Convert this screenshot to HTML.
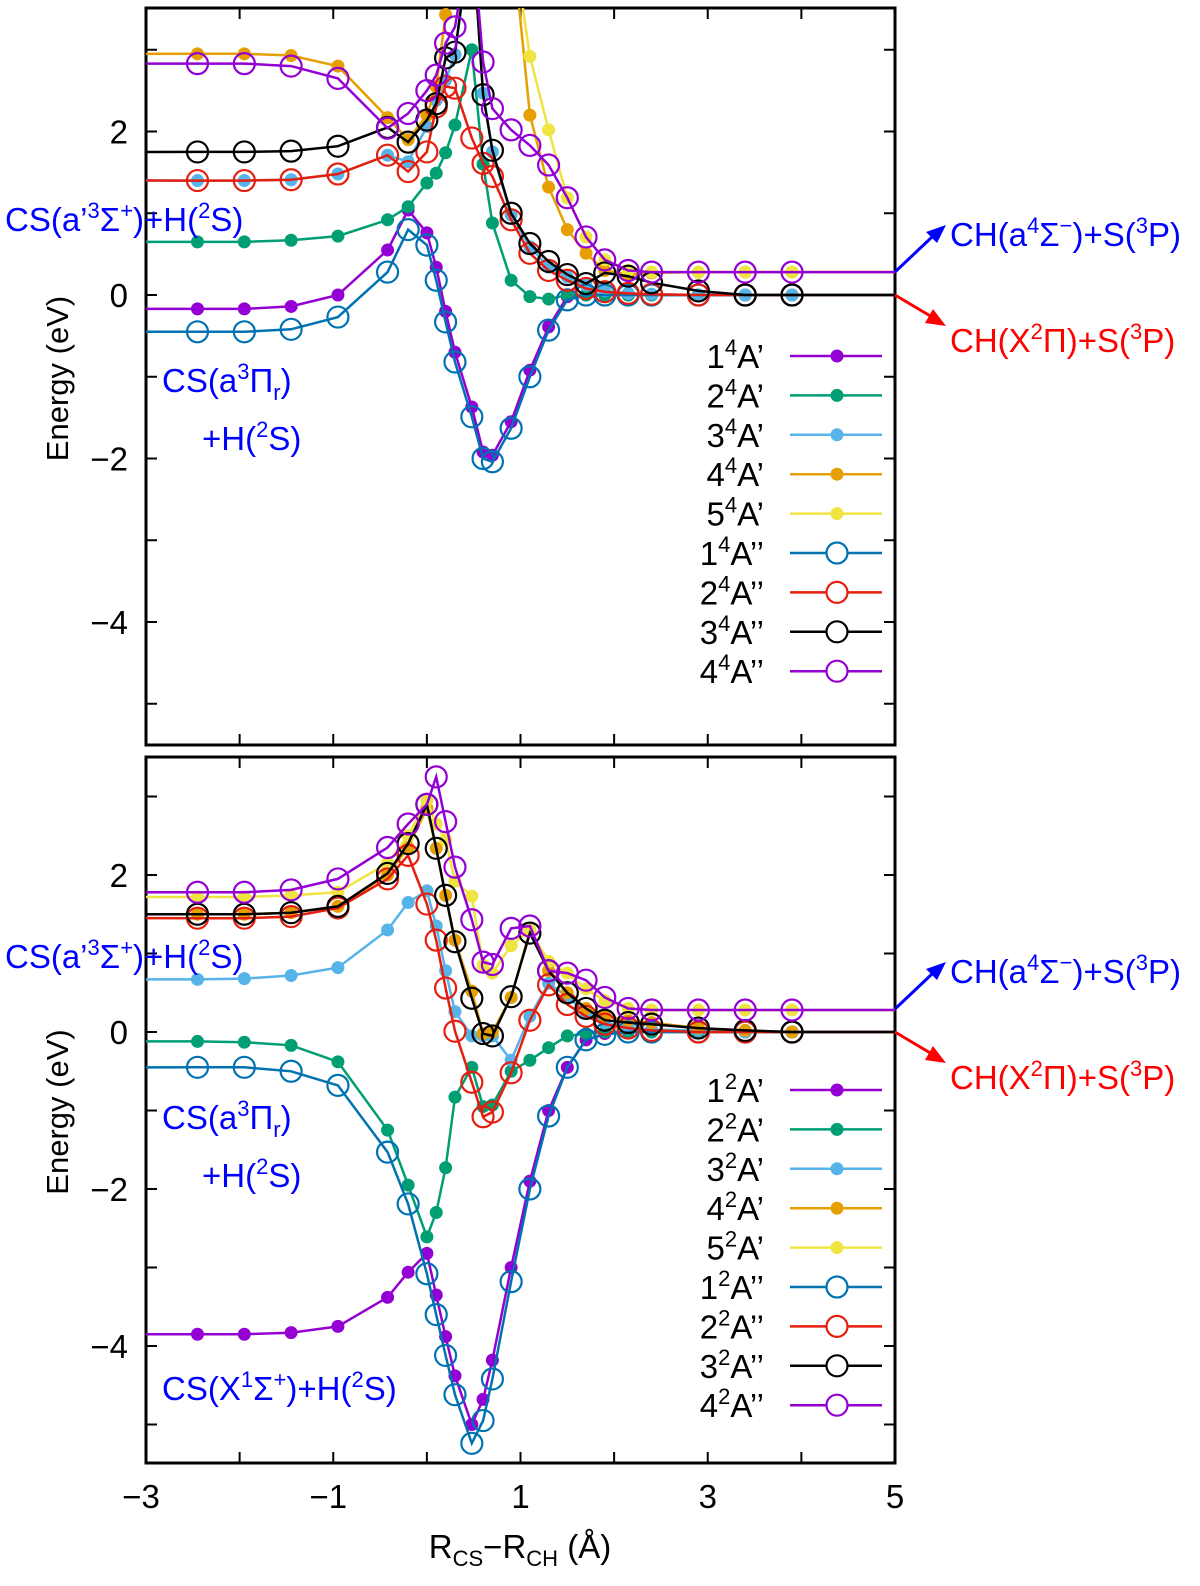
<!DOCTYPE html>
<html><head><meta charset="utf-8"><style>
body{margin:0;background:#fff;}
svg text{font-family:"Liberation Sans",sans-serif;}
</style></head><body>
<svg id="chart" width="1200" height="1581" viewBox="0 0 1200 1581" xmlns="http://www.w3.org/2000/svg">
<defs>
<clipPath id="clipTop"><rect x="146" y="8" width="749" height="737"/></clipPath>
<clipPath id="clipBot"><rect x="146" y="757" width="749" height="706"/></clipPath>
</defs>
<g id="top"></g>
<g id="bot"></g>
<g id="ann"></g>
</svg>
<script>
const xs = [-2.45,-1.95,-1.45,-0.95,-0.42,-0.2,0,0.1,0.2,0.3,0.48,0.6,0.7,0.9,1.1,1.3,1.5,1.7,1.9,2.15,2.4,2.9,3.4,3.9];
const xTicks = [-3,-1,1,3,5];
const yTicks = [2,0,-2,-4];
const colors = ["#9400d3","#009e73","#56b4e9","#e69f00","#f0e442","#0072b2","#e51e10","#000000","#9400d3"];
const filled = [true,true,true,true,true,false,false,false,false];
const topLabels = ["1","2","3","4","5","1","2","3","4"];
const topSuffix = ["A’","A’","A’","A’","A’","A’’","A’’","A’’","A’’"];
// top panel (quartets)
const t1 = [-0.17,-0.17,-0.14,0.0,0.55,1.04,0.76,0.34,-0.2,-0.7,-1.37,-1.92,-1.96,-1.55,-0.92,-0.39,-0.02,0,0,0,0,0,0,0];
const t2 = [0.65,0.65,0.67,0.72,0.92,1.08,1.37,1.49,1.74,2.08,3.0,1.6,0.88,0.18,-0.02,-0.05,0,0,0,0,0,0,0,0];
const t3 = [1.4,1.4,1.41,1.48,1.71,1.63,2.06,2.38,2.63,2.94,4.5,2.47,1.75,0.98,0.59,0.34,0.22,0.12,0.05,0.02,0.01,0,0,0];
const t4 = [2.95,2.95,2.93,2.8,2.17,1.9,2.2,2.55,3.43,4.5,4.5,4.5,4.5,4.5,2.2,1.32,0.8,0.51,0.3,0.25,0.27,0.28,0.28,0.28];
const t5 = [4.5,4.5,4.5,4.5,4.5,4.5,4.5,4.5,4.5,4.5,4.5,4.5,4.5,4.5,2.92,2.02,1.19,0.71,0.43,0.3,0.28,0.28,0.28,0.28];
const t6 = [-0.45,-0.45,-0.42,-0.27,0.28,0.8,0.61,0.18,-0.33,-0.82,-1.49,-2.0,-2.04,-1.63,-1.0,-0.43,-0.06,0,0,0,0,0,0,0];
const t7 = [1.4,1.4,1.41,1.48,1.71,1.51,1.75,2.3,2.55,2.53,1.92,1.61,1.45,0.92,0.51,0.3,0.18,0.08,0.04,0.02,0.01,0,0,0];
const t8 = [1.75,1.75,1.76,1.82,2.05,1.87,2.14,2.34,2.9,2.97,4.5,2.45,1.77,1.0,0.63,0.41,0.25,0.14,0.27,0.23,0.15,0.05,0.0,0.0];
const t9 = [2.83,2.83,2.8,2.65,2.04,2.22,2.5,2.69,3.08,3.28,4.5,2.85,2.28,2.02,1.83,1.59,1.19,0.71,0.43,0.3,0.28,0.28,0.28,0.28];
// bottom panel (doublets)
const b1 = [-3.85,-3.85,-3.83,-3.75,-3.38,-3.06,-2.82,-3.35,-3.88,-4.38,-5.0,-4.68,-4.18,-3.0,-1.9,-1.0,-0.45,-0.1,-0.02,0,0,0,0,0];
const b2 = [-0.12,-0.13,-0.17,-0.38,-1.25,-1.95,-2.61,-2.3,-1.73,-0.83,-0.45,-0.95,-0.93,-0.5,-0.36,-0.2,-0.05,-0.02,0,0,0,0,0,0];
const b3 = [0.67,0.68,0.72,0.82,1.3,1.65,1.8,1.35,0.78,0.26,-0.05,-0.05,-0.05,-0.36,0.2,0.62,0.45,0.25,0.12,0.05,0.03,0.02,0,0];
const b4 = [1.5,1.5,1.52,1.6,2.0,2.35,2.85,2.34,1.74,1.17,0.52,-0.02,0,0.44,1.29,0.78,0.5,0.3,0.2,0.15,0.12,0.05,0.02,0];
const b5 = [1.72,1.72,1.74,1.78,2.15,2.5,2.95,2.65,2.45,1.92,1.73,0.85,0.75,1.1,1.3,0.9,0.75,0.55,0.4,0.3,0.28,0.28,0.28,0.28];
const b6 = [-0.45,-0.45,-0.5,-0.68,-1.53,-2.19,-3.08,-3.6,-4.12,-4.62,-5.24,-4.95,-4.42,-3.18,-2.0,-1.07,-0.45,-0.1,-0.03,0,0,0,0,0];
const b7 = [1.45,1.45,1.47,1.58,1.95,2.25,1.63,1.17,0.56,0.01,-0.64,-1.08,-1.02,-0.52,0.15,0.6,0.35,0.2,0.1,0.05,0.02,0,0,0];
const b8 = [1.5,1.5,1.52,1.6,2.02,2.4,2.9,2.34,1.74,1.15,0.43,-0.02,-0.05,0.45,1.26,0.78,0.5,0.3,0.15,0.12,0.1,0.05,0.02,0];
const b9 = [1.78,1.78,1.81,1.95,2.35,2.65,2.9,3.25,2.68,2.1,1.43,0.89,0.86,1.32,1.35,0.78,0.75,0.66,0.44,0.3,0.28,0.28,0.28,0.28];

const NS="http://www.w3.org/2000/svg";
function mk(tag, attrs, parent){const e=document.createElementNS(NS,tag);for(const k in attrs)e.setAttribute(k,attrs[k]);parent.appendChild(e);return e;}
const X0=146,X1=895;
const FS=33, SS=22;
function xScale(v){return X0+(v+3)*(X1-X0)/8;}
const sp=(s)=>'<tspan dy="-13" font-size="'+SS+'">'+s+'</tspan><tspan dy="13">';

function panel(g, top, bot, zeroY, unit, clip, series, sup, legendY0){
  const yScale=v=>zeroY-v*unit;
  const fr=mk('rect',{x:X0,y:top,width:X1-X0,height:bot-top,fill:'none',stroke:'#000','stroke-width':3},g);
  
  
  for(let v=-5;v<=3;v++){
    const y=yScale(v); if(y<top+2||y>bot-2) continue;
    mk('line',{x1:X0,x2:X0+11,y1:y,y2:y,stroke:'#000','stroke-width':2},g);
    mk('line',{x1:X1-11,x2:X1,y1:y,y2:y,stroke:'#000','stroke-width':2},g);
  }
  yTicks.forEach(v=>{
    const t=mk('text',{x:128,y:yScale(v)+12,'text-anchor':'end','font-size':FS},g);
    t.textContent=(v<0?'\u2212':'')+Math.abs(v);
    
    
  });
  for(let v=-3;v<=5;v++){
    const x=xScale(v);
    mk('line',{x1:x,x2:x,y1:top,y2:top+11,stroke:'#000','stroke-width':2},g);
    mk('line',{x1:x,x2:x,y1:bot-11,y2:bot,stroke:'#000','stroke-width':2},g);
  }
  const cg=mk('g',{'clip-path':'url(#'+clip+')'},g);
  series.forEach((s,i)=>{
    const sg=mk('g',{},cg);
    
    
    let d='M'+xScale(-3)+','+yScale(s[0]);
    s.forEach((v,j)=>{d+=' L'+xScale(xs[j]).toFixed(1)+','+yScale(v).toFixed(1);});
    d+=' L'+xScale(5)+','+yScale(s[s.length-1]);
    mk('path',{d:d,fill:'none',stroke:colors[i],'stroke-width':2.5},sg);
    s.forEach((v,j)=>{
      const c=filled[i]?mk('circle',{cx:xScale(xs[j]),cy:yScale(v),r:6.5,fill:colors[i]},sg)
        :mk('circle',{cx:xScale(xs[j]),cy:yScale(v),r:10.5,fill:'none',stroke:colors[i],'stroke-width':2.2},sg);
      
      
    });
  });
  series.forEach((s,i)=>{
    const y=legendY0+i*39.4;
    const lg=mk('g',{},g);
    
    
    const t=mk('text',{x:764,y:y+12,'text-anchor':'end','font-size':FS},lg);
    t.innerHTML=topLabels[i]+sp(sup)+topSuffix[i]+'</tspan>';
    mk('line',{x1:790,x2:882,y1:y,y2:y,stroke:colors[i],'stroke-width':2.5},lg);
    if(filled[i]) mk('circle',{cx:837,cy:y,r:6.5,fill:colors[i]},lg);
    else mk('circle',{cx:837,cy:y,r:10.5,fill:'#fff',stroke:colors[i],'stroke-width':2.2},lg);
  });
  const yl=mk('text',{x:0,y:0,'text-anchor':'middle','font-size':FS-2,transform:'translate(68,'+((top+bot)/2+2)+') rotate(-90)'},g);
  yl.textContent='Energy (eV)';
  
  
}
panel(document.getElementById('top'),8,745,295,81.75,'clipTop',[t1,t2,t3,t4,t5,t6,t7,t8,t9],'4',356);
panel(document.getElementById('bot'),757,1463,1032,78.5,'clipBot',[b1,b2,b3,b4,b5,b6,b7,b8,b9],'2',1090);

const ann=document.getElementById('ann');
xTicks.forEach(v=>{
  const t=mk('text',{x:xScale(v)-(v<0?5:0),y:1508,'text-anchor':'middle','font-size':FS},ann);
  t.textContent=(v<0?'\u2212':'')+Math.abs(v);
  
  
});
const xt=mk('text',{x:520,y:1558,'text-anchor':'middle','font-size':FS},ann);
xt.innerHTML='R<tspan dy="8" font-size="'+SS+'">CS</tspan><tspan dy="-8">\u2212R</tspan><tspan dy="8" font-size="'+SS+'">CH</tspan><tspan dy="-8"> (Å)</tspan>';



function label(x,y,html,color,name){
  const t=mk('text',{x:x,y:y,'font-size':FS,fill:color},ann);
  t.innerHTML=html;
  
  
}
[0,737].forEach((o,k)=>{
  label(5,231+o,'CS(a’'+sp('3')+'Σ</tspan>'+sp('+')+')+H(</tspan>'+sp('2')+'S)</tspan>','#0000ff','cs-a-prime-label');
  label(162,392+o,'CS(a'+sp('3')+'Π</tspan><tspan dy="8" font-size="'+SS+'">r</tspan><tspan dy="-8">)</tspan>','#0000ff','cs-a-pi-label');
  label(202,450+o,'+H('+sp('2')+'S)</tspan>','#0000ff','h-2s-label');
  label(950,246+o,'CH(a'+sp('4')+'Σ</tspan>'+sp('\u2212')+')+S(</tspan>'+sp('3')+'P)</tspan>','#0000ff','ch-a-label');
  label(950,352+o,'CH(X'+sp('2')+'Π)+S(</tspan>'+sp('3')+'P)</tspan>','#ff0000','ch-x-label');
  const zy=k?1032:295;
  mk('line',{x1:895,y1:zy-23,x2:932,y2:zy-58,stroke:'#0000ff','stroke-width':3},ann);
  mk('path',{d:`M946,${zy-70} L926,${zy-63} L937,${zy-52} z`,fill:'#0000ff'},ann);
  mk('line',{x1:895,y1:zy,x2:932,y2:zy+22,stroke:'#ff0000','stroke-width':3},ann);
  mk('path',{d:`M946,${zy+31} L925,${zy+28} L933,${zy+14} z`,fill:'#ff0000'},ann);
});
label(162,1400,'CS(X'+sp('1')+'Σ</tspan>'+sp('+')+')+H(</tspan>'+sp('2')+'S)</tspan>','#0000ff','cs-x-label');
</script>
</body></html>
